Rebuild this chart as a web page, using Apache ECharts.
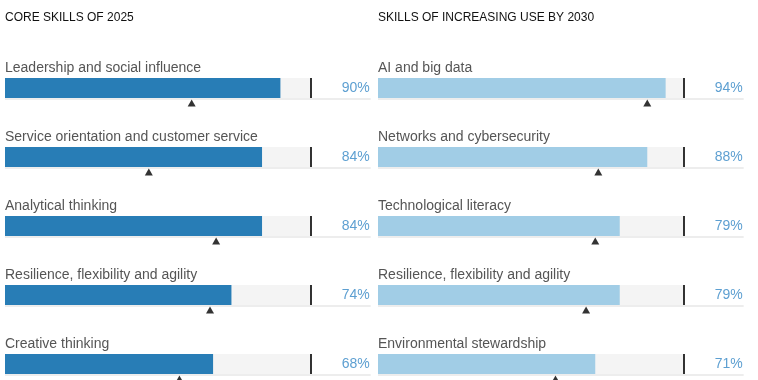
<!DOCTYPE html>
<html>
<head>
<meta charset="utf-8">
<script src="https://cdn.jsdelivr.net/npm/echarts@6/dist/echarts.min.js"></script>
<style>
  html, body { margin: 0; padding: 0; background: #fff; }
  #chart { width: 758px; height: 380px; }
</style>
</head>
<body>
<div id="chart"></div>
<script>
var leftTitle = 'CORE SKILLS OF 2025';
var leftSkills = ['Leadership and social influence', 'Service orientation and customer service',
    'Analytical thinking', 'Resilience, flexibility and agility', 'Creative thinking'];
var leftValues = [90, 84, 84, 74, 68];
var leftMarkers = [61, 47, 69, 67, 57];

var rightTitle = 'SKILLS OF INCREASING USE BY 2030';
var rightSkills = ['AI and big data', 'Networks and cybersecurity', 'Technological literacy',
    'Resilience, flexibility and agility', 'Environmental stewardship'];
var rightValues = [94, 88, 79, 79, 71];
var rightMarkers = [88, 72, 71, 68, 58];

var full = 100;      // end of the track
var lineEnd = 119.5; // underline / label anchor

var font = '"Liberation Sans", Arial, Helvetica, sans-serif';

var myChart = echarts.init(document.getElementById('chart'));

function panel(idx, skills, values, markers, barColor) {
    var series = [];
    // grey track with skill name above
    series.push({
        type: 'bar',
        xAxisIndex: idx, yAxisIndex: idx,
        data: skills.map(function () { return full; }),
        barWidth: 20,
        barGap: '-100%',
        itemStyle: { color: '#f4f4f4' },
        silent: true,
        label: {
            show: true,
            position: [0, -10],
            align: 'left',
            verticalAlign: 'middle',
            fontSize: 14,
            fontFamily: font,
            color: '#555',
            formatter: function (p) { return skills[p.dataIndex]; }
        },
        z: 1
    });
    // value bar
    series.push({
        type: 'bar',
        xAxisIndex: idx, yAxisIndex: idx,
        data: values,
        barWidth: 20,
        barGap: '-100%',
        itemStyle: { color: barColor },
        z: 2
    });
    // underline
    series.push({
        type: 'custom',
        xAxisIndex: idx, yAxisIndex: idx,
        data: skills.map(function (s, i) { return [lineEnd, i]; }),
        renderItem: function (params, api) {
            var a = api.coord([0, api.value(1)]);
            var b = api.coord([api.value(0), api.value(1)]);
            return {
                type: 'rect',
                shape: { x: a[0], y: a[1] + 10, width: b[0] - a[0], height: 2 },
                style: { fill: '#ededed' }
            };
        },
        silent: true,
        z: 1
    });
    // black end mark at 100%
    series.push({
        type: 'scatter',
        xAxisIndex: idx, yAxisIndex: idx,
        data: skills.map(function (s, i) { return [full, i]; }),
        symbol: 'rect',
        symbolSize: [2, 20],
        itemStyle: { color: '#000' },
        silent: true,
        z: 3
    });
    // triangle markers
    series.push({
        type: 'scatter',
        xAxisIndex: idx, yAxisIndex: idx,
        data: markers.map(function (v, i) { return [v, i]; }),
        symbol: 'triangle',
        symbolSize: [8, 7],
        symbolOffset: [0, 15],
        itemStyle: { color: '#000' },
        silent: true,
        z: 3
    });
    // percentage labels
    series.push({
        type: 'scatter',
        xAxisIndex: idx, yAxisIndex: idx,
        data: values.map(function (v, i) { return [lineEnd, i, v]; }),
        symbolSize: 0,
        label: {
            show: true,
            position: 'left',
            distance: 1,
            fontSize: 14,
            fontFamily: font,
            color: '#3587c6',
            formatter: function (p) { return p.value[2] + '%'; }
        },
        silent: true,
        z: 3
    });
    return series;
}

option = {
    animation: false,
    title: [
        { text: leftTitle, left: 5, top: 12, padding: 0,
          textStyle: { fontSize: 12, fontWeight: 'normal', color: '#111', fontFamily: font } },
        { text: rightTitle, left: 378, top: 12, padding: 0,
          textStyle: { fontSize: 12, fontWeight: 'normal', color: '#111', fontFamily: font } }
    ],
    grid: [
        { left: 5, top: 53.5, width: 367.2, height: 345, outerBoundsMode: 'none' },
        { left: 378, top: 53.5, width: 367.2, height: 345, outerBoundsMode: 'none' }
    ],
    xAxis: [
        { type: 'value', gridIndex: 0, min: 0, max: 120, show: false },
        { type: 'value', gridIndex: 1, min: 0, max: 120, show: false }
    ],
    yAxis: [
        { type: 'category', gridIndex: 0, data: leftSkills, inverse: true, show: false },
        { type: 'category', gridIndex: 1, data: rightSkills, inverse: true, show: false }
    ],
    series: panel(0, leftSkills, leftValues, leftMarkers, '#287db6')
        .concat(panel(1, rightSkills, rightValues, rightMarkers, '#a1cde6'))
};

myChart.setOption(option);
</script>
</body>
</html>
